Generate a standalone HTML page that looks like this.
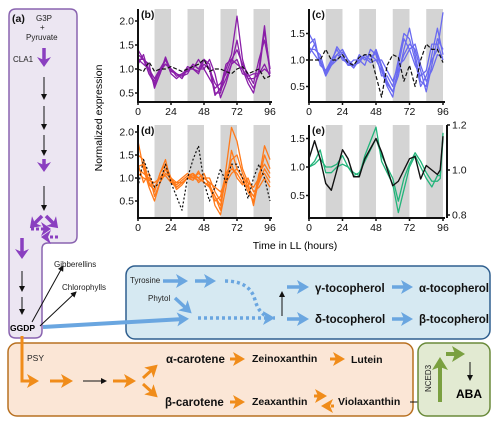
<!DOCTYPE html>
<html><head><meta charset="utf-8">
<style>
body{margin:0;background:#fff;}
svg{display:block;font-family:"Liberation Sans",Arial,sans-serif;}
.t{font-size:8px;fill:#222}
.b{font-size:10.5px;font-weight:bold;fill:#111}
.m{font-size:11.5px;font-weight:bold;fill:#111}
.n{font-size:10.5px;font-weight:bold;fill:#111}
.tk{font-size:10.5px;fill:#111}
</style></head>
<body>
<svg id="fig" width="500" height="425" viewBox="0 0 500 425">
<defs>
<marker id="hk" markerWidth="6" markerHeight="6" refX="5" refY="3" orient="auto" markerUnits="userSpaceOnUse"><path d="M0,0 L6,3 L0,6 Z" fill="#111"/></marker>
<marker id="hp" markerWidth="14" markerHeight="14" refX="7" refY="7" orient="auto" markerUnits="userSpaceOnUse"><path d="M0,0 L10,7 L0,14 L3,7 Z" fill="#8a3fc0"/></marker>
<marker id="hb" markerWidth="14" markerHeight="14" refX="7" refY="7" orient="auto" markerUnits="userSpaceOnUse"><path d="M0,0 L12,7 L0,14 L3,7 Z" fill="#6aa6e0"/></marker>
<marker id="ho" markerWidth="14" markerHeight="14" refX="7" refY="7" orient="auto" markerUnits="userSpaceOnUse"><path d="M0,0 L12,7 L0,14 L3,7 Z" fill="#f08c1a"/></marker>
<marker id="hg" markerWidth="16" markerHeight="16" refX="8" refY="8" orient="auto" markerUnits="userSpaceOnUse"><path d="M0,0 L13,8 L0,16 L3,8 Z" fill="#7aa040"/></marker>
</defs>

<path d="M16,9 H70 Q77,9 77,16 V236 Q77,243 70,243 H48 Q42,243 42,249 V331 Q42,338 35,338 H16 Q9,338 9,331 V16 Q9,9 16,9 Z" fill="#ece6f2" stroke="#8a64b0" stroke-width="1.5"/>
<text class="b" x="12" y="22">(a)</text>
<text class="t" x="36" y="21">G3P</text>
<text class="t" x="40" y="30">+</text>
<text class="t" x="26" y="40">Pyruvate</text>
<text class="t" x="13" y="62">CLA1</text>
<g stroke-linecap="butt">
<line x1="44" y1="48" x2="44" y2="64" stroke="#8a3fc0" stroke-width="3.5" marker-end="url(#hp)"/>
<line x1="44" y1="77" x2="44" y2="99" stroke="#111" stroke-width="1" marker-end="url(#hk)"/>
<line x1="44" y1="106" x2="44" y2="129" stroke="#111" stroke-width="1" marker-end="url(#hk)"/>
<line x1="44" y1="135" x2="44" y2="155" stroke="#111" stroke-width="1" marker-end="url(#hk)"/>
<line x1="44" y1="159" x2="44" y2="169" stroke="#8a3fc0" stroke-width="3.5" marker-end="url(#hp)"/>
<line x1="44" y1="186" x2="44" y2="210" stroke="#111" stroke-width="1" marker-end="url(#hk)"/>
<line x1="42" y1="216" x2="32" y2="226" stroke="#8a3fc0" stroke-width="3.5" marker-end="url(#hp)"/>
<line x1="46" y1="216" x2="56" y2="226" stroke="#8a3fc0" stroke-width="3.5" marker-end="url(#hp)"/>
<line x1="31" y1="229" x2="48" y2="229" stroke="#8a3fc0" stroke-width="3" stroke-dasharray="3,2" marker-end="url(#hp)"/>
<line x1="58" y1="237" x2="44" y2="237" stroke="#8a3fc0" stroke-width="3" stroke-dasharray="3,2" marker-end="url(#hp)"/>
<line x1="22" y1="238" x2="22" y2="256" stroke="#8a3fc0" stroke-width="3.5" marker-end="url(#hp)"/>
<line x1="22" y1="271" x2="22" y2="291" stroke="#111" stroke-width="1" marker-end="url(#hk)"/>
<line x1="22" y1="297" x2="22" y2="314" stroke="#111" stroke-width="1" marker-end="url(#hk)"/>
<line x1="32" y1="322" x2="63" y2="266" stroke="#111" stroke-width="1" marker-end="url(#hk)"/>
<line x1="40" y1="326" x2="76" y2="292" stroke="#111" stroke-width="1" marker-end="url(#hk)"/>
</g>
<text class="t" x="54" y="267">Gibberellins</text>
<text class="t" x="62" y="290">Chlorophylls</text>
<text x="10" y="331" style="font-size:8.5px;font-weight:bold">GGDP</text>

<rect x="126" y="266" width="364" height="73" rx="9" fill="#d6e9f2" stroke="#2f5f8f" stroke-width="1.5"/>
<line x1="43" y1="327" x2="184" y2="319" stroke="#6aa6e0" stroke-width="4" marker-end="url(#hb)"/>
<text class="t" x="130" y="283">Tyrosine</text>
<text class="t" x="148" y="301">Phytol</text>
<g stroke="#6aa6e0" stroke-width="3.5" fill="none">
<line x1="163" y1="281" x2="183" y2="281" marker-end="url(#hb)"/>
<line x1="195" y1="281" x2="211" y2="281" marker-end="url(#hb)"/>
<path d="M225,281 Q250,281 255,300 Q260,318 275,318" stroke-dasharray="3,3"/>
<line x1="175" y1="298" x2="188" y2="310" marker-end="url(#hb)"/>
<line x1="198" y1="318" x2="264" y2="318" stroke-dasharray="3,3"/>
<line x1="264" y1="318" x2="270" y2="318" marker-end="url(#hb)"/>
<line x1="287" y1="287" x2="304" y2="287" marker-end="url(#hb)"/>
<line x1="287" y1="319" x2="304" y2="319" marker-end="url(#hb)"/>
<line x1="392" y1="287" x2="408" y2="287" marker-end="url(#hb)"/>
<line x1="392" y1="319" x2="408" y2="319" marker-end="url(#hb)"/>
</g>
<line x1="282" y1="316" x2="282" y2="292" stroke="#111" stroke-width="1" marker-end="url(#hk)"/>
<text class="m" x="315" y="292">γ-tocopherol</text>
<text class="m" x="419" y="292" textLength="70">α-tocopherol</text>
<text class="m" x="315" y="323">δ-tocopherol</text>
<text class="m" x="419" y="323" textLength="70">β-tocopherol</text>

<rect x="8" y="343" width="405" height="73" rx="9" fill="#fbe6d6" stroke="#b87020" stroke-width="1.5"/>
<text class="t" x="27" y="361" style="font-size:8.5px">PSY</text>
<g stroke="#f08c1a" stroke-width="3" fill="none">
<path d="M22,336 V381 H34" marker-end="url(#ho)"/>
<line x1="50" y1="381" x2="68" y2="381" marker-end="url(#ho)"/>
<line x1="113" y1="381" x2="131" y2="381" marker-end="url(#ho)"/>
<line x1="143" y1="378" x2="154" y2="368" marker-end="url(#ho)"/>
<line x1="143" y1="384" x2="154" y2="394" marker-end="url(#ho)"/>
<line x1="230" y1="359" x2="240" y2="359" marker-end="url(#ho)"/>
<line x1="330" y1="359" x2="340" y2="359" marker-end="url(#ho)"/>
<line x1="230" y1="402" x2="240" y2="402" marker-end="url(#ho)"/>
<line x1="314" y1="396" x2="322" y2="396" marker-end="url(#ho)"/>
<line x1="334" y1="406" x2="326" y2="406" stroke-dasharray="3,2" marker-end="url(#ho)"/>
</g>
<line x1="83" y1="381" x2="106" y2="381" stroke="#111" stroke-width="1" marker-end="url(#hk)"/>
<text class="m" x="166" y="363">α-carotene</text>
<text class="n" x="252" y="362">Zeinoxanthin</text>
<text class="n" x="351" y="363">Lutein</text>
<text class="m" x="165" y="406">β-carotene</text>
<text class="n" x="252" y="405">Zeaxanthin</text>
<text class="n" x="338" y="405">Violaxanthin</text>
<line x1="410" y1="402" x2="436" y2="402" stroke="#111" stroke-width="1" marker-end="url(#hk)"/>

<rect x="418" y="343" width="72" height="73" rx="9" fill="#e2ead2" stroke="#6a8a3a" stroke-width="1.5"/>
<path d="M440,402 V362" stroke="#7aa040" stroke-width="4" marker-end="url(#hg)" fill="none"/>
<line x1="446" y1="354" x2="460" y2="354" stroke="#7aa040" stroke-width="4" marker-end="url(#hg)"/>
<line x1="470" y1="362" x2="470" y2="380" stroke="#111" stroke-width="1" marker-end="url(#hk)"/>
<text class="t" transform="translate(431,392) rotate(-90)">NCED3</text>
<text x="456" y="398" style="font-size:12px;font-weight:bold">ABA</text>

<text transform="translate(102,118) rotate(-90)" text-anchor="middle" style="font-size:10.5px">Normalized expression</text>
<text x="295" y="249" text-anchor="middle" style="font-size:10.5px">Time in LL (hours)</text>
<g id="charts"></g>
</svg>
<script>
const hours=[0,4,8,12,16,20,24,28,32,36,40,44,48,52,56,60,64,68,72,76,80,84,88,92,96];
const xTicks=[0,24,48,72,96];
const darkBands=[[12,24],[36,48],[60,72],[84,96]];
const bSeries=[
[1.4,1.2,1.1,0.6,0.9,1.2,1.0,0.9,0.85,0.9,1.1,1.0,1.2,1.1,0.5,0.5,1.0,1.3,2.1,1.2,0.8,0.6,0.9,1.8,1.0],
[1.3,1.2,0.9,0.7,1.0,1.1,1.0,0.85,0.9,0.95,1.1,1.0,1.0,1.2,0.9,0.4,0.7,1.1,1.6,1.0,0.7,0.5,1.0,1.9,0.9],
[1.2,1.1,1.0,0.8,1.0,1.2,0.9,0.8,0.9,1.0,1.0,1.2,1.0,0.8,0.6,0.7,0.9,1.2,1.4,1.1,0.9,0.7,1.2,1.6,1.0],
[1.1,1.3,0.9,0.75,0.95,1.1,1.0,0.9,0.8,1.0,1.0,0.95,1.1,1.0,0.45,0.6,1.1,1.2,1.1,1.0,0.8,0.8,0.9,1.0,0.9],
[1.2,1.2,1.0,0.65,0.9,1.25,0.95,0.9,0.85,1.05,1.0,0.9,1.2,1.0,0.7,0.55,0.8,1.1,1.2,0.9,0.85,0.9,0.9,1.1,0.85]];
const bRef=[1.0,0.95,1.15,0.95,1.0,1.0,1.05,1.0,0.95,1.0,1.05,1.1,1.2,0.95,1.0,1.0,0.95,0.9,1.0,1.05,0.9,0.95,1.0,0.8,0.85];
const cSeries=[
[1.5,1.3,1.0,0.7,0.9,1.1,1.2,1.0,0.9,1.0,1.1,1.0,1.2,0.9,0.6,0.4,0.7,1.2,1.6,1.1,0.6,0.5,1.1,1.6,1.1],
[1.3,1.4,0.9,0.8,1.0,1.2,1.0,0.95,0.85,1.1,1.0,1.1,1.0,0.8,0.5,0.3,0.9,1.4,1.2,0.9,0.7,0.8,1.3,1.3,1.0],
[1.2,1.2,1.1,0.75,0.95,1.25,1.1,0.9,1.0,1.0,0.9,1.2,1.1,0.7,0.7,0.5,1.0,1.5,1.4,1.0,0.5,0.7,1.0,1.2,1.9],
[1.1,1.3,1.0,0.7,1.0,1.1,1.05,0.9,0.9,0.95,1.1,1.0,1.15,0.85,0.55,0.4,0.8,1.1,1.3,1.2,0.8,0.4,0.9,1.4,1.2],
[1.25,1.1,0.95,0.8,0.9,1.0,1.15,1.0,0.85,1.0,1.05,0.95,1.0,1.0,0.8,0.6,0.9,1.0,1.2,1.3,0.9,0.6,0.8,1.1,1.05]];
const cRef=[1.0,1.0,1.0,1.2,1.0,1.0,1.1,0.95,0.9,1.05,1.1,1.1,0.7,0.3,0.9,1.1,1.05,0.6,0.9,0.5,1.0,1.3,1.2,1.2,0.95];
const dSeries=[
[1.8,1.2,0.8,0.5,0.9,1.2,1.0,0.9,0.9,1.0,1.1,1.0,0.9,0.8,0.6,0.3,1.2,2.1,1.8,1.2,0.9,0.4,1.0,1.7,1.4],
[1.5,1.4,0.9,0.7,1.1,1.4,0.9,0.8,0.9,1.0,1.0,1.1,1.0,0.9,0.4,0.2,0.8,1.6,1.2,1.0,0.7,0.5,1.1,1.3,1.1],
[1.2,1.1,1.0,0.8,1.0,1.2,0.95,0.85,0.95,1.05,1.1,0.9,1.0,1.0,0.7,0.5,1.0,1.2,1.1,0.9,0.8,0.6,0.9,1.2,1.0],
[1.3,0.9,1.1,0.6,0.9,1.1,1.0,0.8,0.9,1.0,1.05,1.0,1.1,0.8,0.5,0.6,1.1,1.3,1.0,0.85,1.0,0.7,0.8,1.0,0.8],
[1.1,1.0,0.95,0.9,1.0,1.05,0.9,0.9,1.0,1.1,1.0,0.95,1.0,0.9,0.8,0.7,0.9,1.1,1.2,1.0,0.9,0.8,1.0,1.1,0.9],
[1.25,1.3,0.85,0.75,1.1,1.3,1.0,0.75,0.85,1.0,0.95,1.15,0.9,0.85,0.6,0.4,1.0,1.4,1.5,1.1,0.8,0.45,0.95,1.5,1.2]];
const dRef=[0.8,1.4,1.1,0.8,0.9,1.3,0.9,0.6,0.3,1.0,1.4,1.7,0.9,0.5,0.8,1.2,0.9,1.3,1.3,1.0,0.55,1.0,1.3,1.0,0.5];
const eHours=[0,4,8,12,16,20,24,28,32,36,40,48,52,60,64,68,72,76,80,84,88,92,94,96];
const eSeries=[
[1.0,1.1,1.3,0.9,0.9,1.0,1.05,1.0,0.9,0.85,1.2,1.7,1.1,0.7,0.2,0.6,1.0,1.2,1.0,0.8,0.65,0.85,0.85,1.6],
[1.0,1.05,1.15,1.0,1.0,1.05,1.2,1.0,0.85,0.9,1.1,1.5,1.2,0.8,0.4,0.8,1.05,1.25,1.1,0.9,0.75,0.75,0.8,1.5]];
const eBlackHours=[0,4,8,12,16,20,24,28,32,36,40,48,52,60,64,68,72,76,80,84,88,92,94,96];
const eBlack=[1.05,1.13,1.05,0.94,0.91,1.0,1.09,1.05,0.97,0.97,1.05,1.14,1.08,0.93,0.95,1.0,1.05,1.06,0.96,1.02,1.0,0.98,1.0,1.15];

const NS="http://www.w3.org/2000/svg";
const root=document.getElementById('charts');
function mk(tag,attrs,parent){const e=document.createElementNS(NS,tag);for(const k in attrs)e.setAttribute(k,attrs[k]);(parent||root).appendChild(e);return e;}

function panel(o){
  const g=mk('g',{});
  
  
  const xs=h=>o.x0+(h/96)*(o.x1-o.x0);
  const ys=v=>o.yAt1+(1-v)*o.ppu;
  for(const b of darkBands){
    const r=mk('rect',{x:xs(b[0]),y:o.top,width:xs(b[1])-xs(b[0]),height:o.axisY-o.top,fill:'#d4d4d4'},g);
    
    
  }
  const clip='clip-'+o.name;
  const cp=mk('clipPath',{id:clip},g);mk('rect',{x:o.x0,y:o.top-4,width:o.x1-o.x0+6,height:o.axisY-o.top+4},cp);
  const lg=mk('g',{'clip-path':'url(#'+clip+')'},g);
  function line(hs,vals,stroke,dash,w,sc){
    const yf=sc||ys;
    const p=mk('polyline',{points:vals.map((v,i)=>xs(hs[i])+','+yf(v)).join(' '),fill:'none',stroke:stroke,'stroke-width':w||1.3,'stroke-dasharray':dash||'none','stroke-linejoin':'round'},lg);
    
    
  }
  o.series.forEach(s=>line(o.hours||hours,s,o.color));
  if(o.ref)line(hours,o.ref,'#111',o.refDash,1.2);
  if(o.black)line(eBlackHours,o.black,'#111',null,1.4,v=>o.rAt1+(1-v)*o.rppu);
  const ax=mk('path',{d:`M${o.x0},${o.top} V${o.axisY} H${o.x1+2}`,fill:'none',stroke:'#111','stroke-width':2},g);
  
  
  for(const t of xTicks){
    mk('line',{x1:xs(t),x2:xs(t),y1:o.axisY,y2:o.axisY+3,stroke:'#111','stroke-width':1.5},g);
    const tx=mk('text',{x:xs(t),y:o.axisY+13,'text-anchor':'middle',class:'tk'},g);tx.textContent=t;
    
    
  }
  for(const v of o.yTicks){
    mk('line',{x1:o.x0-3,x2:o.x0,y1:ys(v),y2:ys(v),stroke:'#111','stroke-width':1.5},g);
    const tx=mk('text',{x:o.x0-4,y:ys(v)+3.5,'text-anchor':'end',class:'tk'},g);tx.textContent=v.toFixed(1);
    
    
  }
  if(o.rTicks){
    const rx=o.x1+4;
    mk('line',{x1:rx,x2:rx,y1:o.top,y2:o.axisY,stroke:'#111','stroke-width':2},g);
    for(const v of o.rTicks){const y=o.rAt1+(1-v)*o.rppu;
      mk('line',{x1:rx,x2:rx+3,y1:y,y2:y,stroke:'#111','stroke-width':1.5},g);
      const tx=mk('text',{x:rx+5,y:y+3.5,class:'tk'},g);tx.textContent=v.toFixed(1);
      
      }
  }
  const lb=mk('text',{x:o.x0+3,y:o.top+9,class:'b'},g);lb.textContent=o.label;
  
  
}
panel({name:'panel-b',label:'(b)',x0:138,x1:270,top:9,axisY:102,yAt1:69,ppu:48,yTicks:[0.5,1.0,1.5,2.0],series:bSeries,color:'#8a1fa8',ref:bRef,refDash:'4,2'});
panel({name:'panel-c',label:'(c)',x0:309,x1:443,top:9,axisY:102,yAt1:60,ppu:53,yTicks:[0.5,1.0,1.5],series:cSeries,color:'#6a6af0',ref:cRef,refDash:'4,2'});
panel({name:'panel-d',label:'(d)',x0:138,x1:270,top:125,axisY:218,yAt1:178,ppu:46,yTicks:[0.5,1.0,1.5,2.0],series:dSeries,color:'#ff7a1a',ref:dRef,refDash:'2,2'});
panel({name:'panel-e',label:'(e)',x0:309,x1:443,top:125,axisY:218,yAt1:167,ppu:57,yTicks:[0.5,1.0,1.5],series:eSeries,hours:eHours,color:'#22b47a',black:eBlack,rAt1:170,rppu:225,rTicks:[0.8,1.0,1.2]});
</script>
</body></html>
